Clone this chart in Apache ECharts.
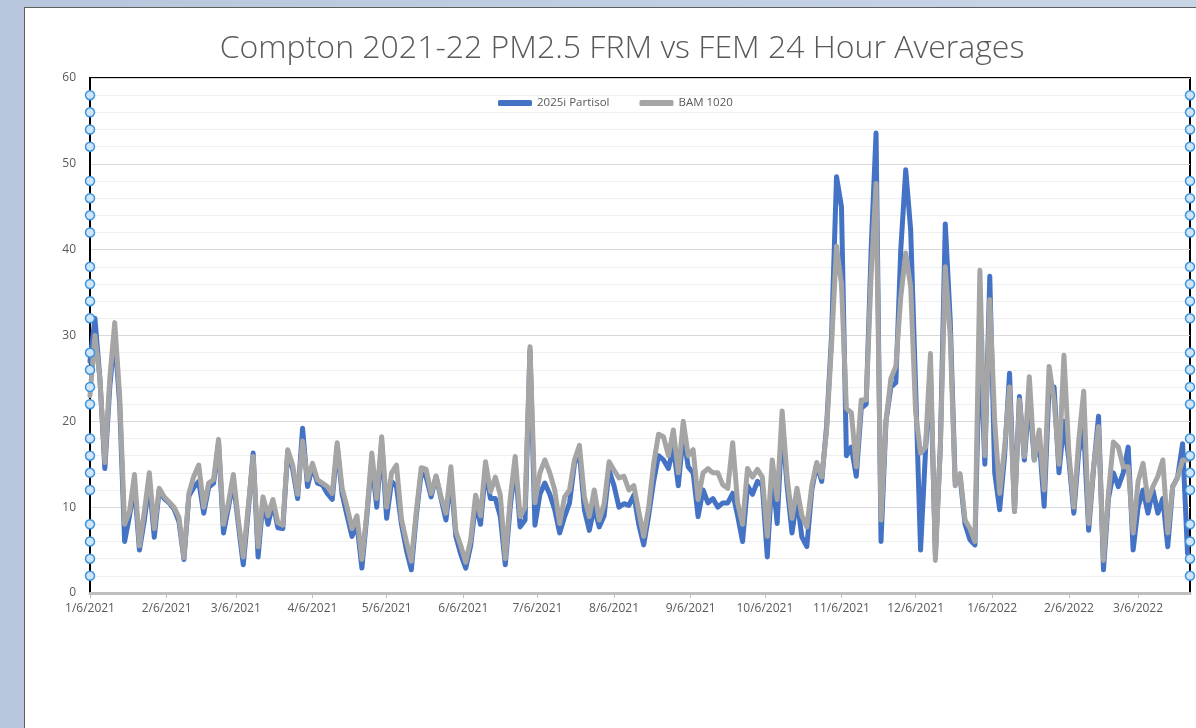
<!DOCTYPE html>
<html>
<head>
<meta charset="utf-8">
<title>Compton 2021-22 PM2.5 FRM vs FEM 24 Hour Averages</title>
<script src="https://cdn.jsdelivr.net/npm/echarts@6/dist/echarts.min.js"></script>
<style>
  html, body { margin: 0; width: 1196px; height: 728px; overflow: hidden; background: linear-gradient(90deg, #b7c6dc, #c9d6e8); }
  #frame { position: absolute; left: 24px; top: 7px; width: 1210px; height: 730px; background: #fff; border-left: 1px solid #5f5f5f; border-top: 1px solid #5f5f5f; }
  #chart { width: 1194px; height: 721px; }
</style>
</head>
<body>
<div id="frame"><div id="chart"></div></div>
<script>
// daily axis, one value every 2 days starting 1/6/2021
var startDate = new Date(2021, 0, 6);
var endDate = new Date(2022, 2, 27);
var stepDays = 2;

// 2025i Partisol (FRM)
var partisol = [
  27, 32, 25, 14.5, 24, 30, 22, 6, 9, 12.5,
  5, 8.5, 13, 6.5, 12, 11, 10.5, 9.8, 8.3, 3.9,
  11.3, 12.3, 13, 9.3, 12.3, 12.8, 17.5, 7, 10, 13,
  8, 3.3, 9.5, 16.3, 4.2, 10.8, 8, 10.5, 7.6, 7.5,
  16.5, 14.4, 11, 19.2, 12.4, 14.8, 12.8, 12.6, 11.6, 10.9,
  17.1, 11.5, 9, 6.6, 8, 2.9, 9, 15.5, 10, 17.5,
  8.7, 13, 12.4, 8, 5, 2.7, 9, 14, 13.5, 11.2,
  13.6, 11, 8.5, 13.5, 6.6, 4.5, 2.9, 5.5, 10.5, 8,
  14.3, 11, 11, 8.9, 3.3, 10, 15, 7.7, 8.5, 28.3,
  7.9, 11.5, 12.8, 11.5, 9.7, 7, 8.9, 10.5, 15.1, 16.3,
  9.7, 7.3, 10, 7.7, 9, 14.3, 12.5, 10, 10.4, 10.2,
  11.4, 8, 5.6, 9, 13, 16, 15.5, 14.5, 17, 12.5,
  18.5, 14.7, 14, 8.9, 12, 10.5, 11, 10, 10.5, 10.5,
  11.6, 9, 6, 12.5, 11.5, 13, 12.5, 4.2, 14, 8.1,
  19.8, 12.5, 7, 11, 6.5, 5.4, 12, 15, 13, 19.5,
  30, 48.5, 45, 16, 17, 13.6, 21.5, 22, 40, 53.6,
  6, 20, 24, 24.5, 40, 49.3, 42.3, 24, 5, 16.5,
  26, 4.5, 17, 43, 31.8, 13, 13.5, 8, 6.2, 5.6,
  30, 15, 36.9, 14, 9.7, 16, 25.6, 9.5, 22.9, 15.5,
  23, 15.5, 18, 10.1, 24, 24, 14, 20, 15.5, 9.3,
  16.5, 19, 7.3, 14.5, 20.6, 2.7, 11, 14, 12.4, 14,
  17, 5, 10, 12, 9.3, 12, 9.3, 11, 5.4, 12.4,
  13.5, 17.4, 4.6
];

// BAM 1020 (FEM)
var bam = [
  23, 30, 25, 15.2, 25, 31.5, 23, 8, 9.5, 13.8,
  5.5, 9.5, 14, 7.5, 12.2, 11.2, 10.6, 10, 8.8, 4.1,
  11.6, 13.6, 14.9, 10, 12.8, 13.2, 17.9, 8, 10.5, 13.8,
  8.5, 4.2, 10, 15.9, 5.4, 11.2, 9, 10.9, 8.2, 7.9,
  16.7, 14.9, 11.5, 17.7, 13.2, 15.1, 13.2, 12.8, 12.4, 11.6,
  17.5, 12.2, 10, 7.5, 9, 3.9, 9.3, 16.3, 11, 18.2,
  10, 14, 14.9, 8.6, 6, 3.7, 9.5, 14.6, 14.4, 11.6,
  13.6, 11.2, 9.3, 14.7, 7.2, 5.5, 3.6, 6.2, 11.4, 9,
  15.3, 11.8, 13.5, 11.4, 4, 11, 15.9, 8.9, 10, 28.7,
  10.5, 14, 15.5, 14, 12, 8.1, 11.2, 12, 15.5, 17.2,
  11.2, 8.9, 12, 8.5, 10.4, 15.3, 14.3, 13.4, 13.6, 12,
  12.5, 9.5, 6.6, 10, 15, 18.5, 18.2, 16, 19, 14,
  20, 16, 16.7, 10.9, 14, 14.5, 14, 14, 12.6, 12.2,
  17.5, 10.5, 8, 14.5, 13.5, 14.4, 13.5, 6.6, 15.5, 10.9,
  21.2, 13.5, 8.7, 12.2, 9, 7.7, 12.5, 15.2, 13.5, 19,
  29, 40.4, 36, 21.5, 21, 14.7, 22.5, 22.5, 37, 47.7,
  8.5, 20, 25, 26.4, 34.5, 39.6, 35.7, 21, 16.3, 17,
  27.9, 3.8, 17, 38, 29.9, 12.5, 13.9, 8.5, 7.5, 6,
  37.6, 16, 34.2, 20, 11.6, 17, 24, 9.5, 22.5, 15.9,
  25.2, 15.5, 19, 12, 26.4, 22.5, 15, 27.7, 16.3, 10,
  17.8, 23.5, 8.1, 14.7, 19.4, 3.8, 11.6, 17.6, 17, 14.7,
  14.7, 7, 13, 15.1, 10.8, 12.4, 13.6, 15.5, 7, 12.4,
  13.5, 15.5, 15.5
];

var categories = [];
for (var d = new Date(startDate); d <= endDate; d.setDate(d.getDate() + 1)) {
  categories.push((d.getMonth() + 1) + '/' + d.getDate() + '/' + d.getFullYear());
}

function spread(values) {
  var out = categories.map(function () { return null; });
  values.forEach(function (v, i) { out[i * stepDays] = v; });
  return out;
}

// selection handles drawn at the ends of the minor gridlines
var handles = [];
for (var v = 2; v < 60; v += 2) {
  if (v % 10 !== 0) {
    handles.push([0, v]);
    handles.push([categories.length - 1, v]);
  }
}

function isSixth(index, value) {
  return value.split('/')[1] === '6';
}

var font = "'Open Sans', sans-serif";
var chart = echarts.init(document.getElementById('chart'));
chart.setOption({
  animation: false,
  title: {
    text: 'Compton 2021-22 PM2.5 FRM vs FEM 24 Hour Averages',
    left: 'center',
    top: 20,
    textStyle: { fontFamily: font, fontWeight: 300, fontSize: 32, color: '#595959' }
  },
  legend: {
    data: ['2025i Partisol', 'BAM 1020'],
    left: 468,
    top: 84,
    icon: 'roundRect',
    itemWidth: 34,
    itemHeight: 6,
    itemGap: 30,
    itemStyle: { borderWidth: 0 },
    textStyle: { fontFamily: font, fontSize: 11.5, color: '#595959' }
  },
  grid: {
    left: 65, right: 29, top: 70, bottom: 136,
    show: true, borderColor: '#000', borderWidth: 2
  },
  xAxis: {
    type: 'category',
    data: categories,
    boundaryGap: false,
    axisLine: { lineStyle: { color: '#bfbfbf', width: 3 } },
    axisTick: { interval: isSixth, length: 5, lineStyle: { color: '#bfbfbf' } },
    axisLabel: { interval: isSixth, margin: 10, fontFamily: font, fontSize: 12, color: '#595959' },
    splitLine: { show: false }
  },
  yAxis: {
    type: 'value',
    min: 0, max: 60, interval: 10,
    axisLine: { show: true, lineStyle: { color: '#000', width: 2 } },
    axisTick: { show: false },
    axisLabel: { margin: 14, fontFamily: font, fontSize: 12, color: '#595959' },
    splitLine: { lineStyle: { color: '#d9d9d9', width: 1 } },
    minorTick: { show: false, splitNumber: 5 },
    minorSplitLine: { show: true, lineStyle: { color: '#efefef', width: 1 } }
  },
  series: [
    {
      name: '2025i Partisol',
      type: 'line',
      data: spread(partisol),
      connectNulls: true,
      symbol: 'none',
      lineStyle: { color: '#4472c4', width: 5, cap: 'round', join: 'round' },
      itemStyle: { color: '#4472c4' }
    },
    {
      name: 'BAM 1020',
      type: 'line',
      data: spread(bam),
      connectNulls: true,
      symbol: 'none',
      lineStyle: { color: '#a5a5a5', width: 5, cap: 'round', join: 'round' },
      itemStyle: { color: '#a5a5a5' }
    },
    {
      name: 'handles',
      type: 'scatter',
      data: handles,
      clip: false,
      symbolSize: 9,
      silent: true,
      z: 5,
      itemStyle: { color: '#cfe5fa', borderColor: '#3f94dc', borderWidth: 1.5, opacity: 1 }
    }
  ]
});
</script>
</body>
</html>
